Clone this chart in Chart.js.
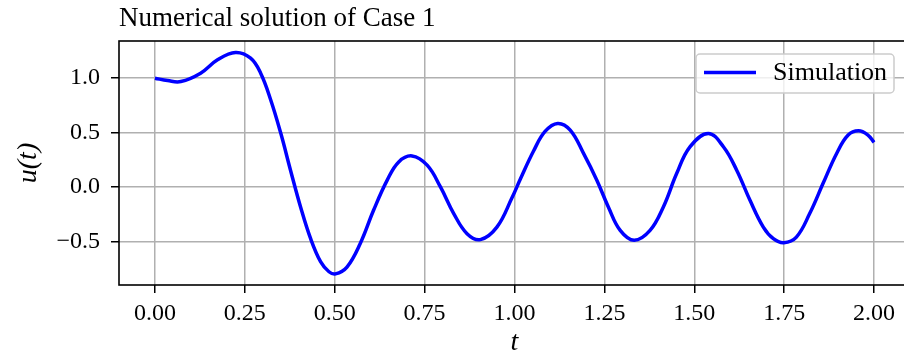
<!DOCTYPE html>
<html>
<head>
<meta charset="utf-8">
<script src="https://cdn.jsdelivr.net/npm/chart.js@4"></script>
<style>
  html, body { margin: 0; padding: 0; overflow: hidden; background: #fff; }
</style>
</head>
<body>
<canvas id="caseChart" width="912" height="362"></canvas>
<script>
const titleText = 'Numerical solution of Case 1';
const seriesLabel = 'Simulation';

// t values and u(t)
const tValues = [
    0.000, 0.035, 0.072, 0.127, 0.174, 0.224, 0.266, 0.294, 0.322, 0.350,
    0.377, 0.405, 0.433, 0.461, 0.484, 0.502, 0.534, 0.571, 0.608, 0.646,
    0.678, 0.715, 0.757, 0.794, 0.831, 0.868, 0.905, 0.951, 0.993, 1.016,
    1.053, 1.085, 1.120, 1.155, 1.192, 1.229, 1.261, 1.294, 1.333, 1.377,
    1.414, 1.451, 1.488, 1.539, 1.581, 1.618, 1.655, 1.692, 1.720, 1.749,
    1.784, 1.821, 1.858, 1.896, 1.928, 1.957, 1.983, 2.000
];
const uValues = [
    1.000, 0.978, 0.969, 1.046, 1.169, 1.236, 1.184, 1.046, 0.800, 0.493,
    0.154, -0.184, -0.476, -0.690, -0.780, -0.800, -0.737, -0.520, -0.215, 0.062,
    0.230, 0.285, 0.200, 0.000, -0.245, -0.430, -0.485, -0.370, -0.100, 0.070,
    0.330, 0.510, 0.584, 0.523, 0.308, 0.062, -0.184, -0.400, -0.491, -0.400,
    -0.184, 0.123, 0.369, 0.492, 0.369, 0.154, -0.123, -0.369, -0.476, -0.513,
    -0.461, -0.245, 0.031, 0.308, 0.477, 0.516, 0.477, 0.410
];

const xTicks = [0, 0.25, 0.5, 0.75, 1.0, 1.25, 1.5, 1.75, 2.0];
const yTicks = [-0.5, 0, 0.5, 1.0];

const serif = "'Liberation Serif', 'Times New Roman', serif";
const gridColor = '#b0b0b0';

// frame around the axes, drawn over the curve like matplotlib spines
const framePlugin = {
    id: 'frame',
    afterDatasetsDraw(chart) {
        const { ctx, chartArea: a } = chart;
        ctx.save();
        ctx.strokeStyle = '#000';
        ctx.lineWidth = 1.6;
        ctx.strokeRect(a.left, a.top, a.right - a.left, a.bottom - a.top);
        ctx.restore();
    }
};

// left-aligned title and a boxed legend in the upper right
const decorPlugin = {
    id: 'decor',
    afterDraw(chart) {
        const { ctx, chartArea: a } = chart;
        ctx.save();
        ctx.fillStyle = '#000';
        ctx.font = '27px ' + serif;
        ctx.textAlign = 'left';
        ctx.textBaseline = 'alphabetic';
        ctx.fillText(titleText, a.left, 26);

        const ds = chart.data.datasets[0];
        const boxW = 198, boxH = 39;
        const bx = a.right - 16 - boxW, by = a.top + 13;
        ctx.beginPath();
        ctx.roundRect(bx, by, boxW, boxH, 4);
        ctx.fillStyle = 'rgba(255,255,255,0.8)';
        ctx.fill();
        ctx.strokeStyle = '#cccccc';
        ctx.lineWidth = 1.5;
        ctx.stroke();

        const ly = by + boxH / 2 - 1;
        ctx.beginPath();
        ctx.moveTo(bx + 8, ly);
        ctx.lineTo(bx + 60, ly);
        ctx.strokeStyle = ds.borderColor;
        ctx.lineWidth = ds.borderWidth;
        ctx.stroke();

        ctx.fillStyle = '#000';
        ctx.font = '26px ' + serif;
        ctx.fillText(ds.label, bx + 77, by + 26);
        ctx.restore();
    }
};

new Chart(document.getElementById('caseChart').getContext('2d'), {
    type: 'line',
    data: {
        datasets: [{
            label: seriesLabel,
            data: tValues.map((t, i) => ({ x: t, y: uValues[i] })),
            borderColor: '#0000ff',
            borderWidth: 3.5,
            pointRadius: 0,
            tension: 0.4,
            fill: false
        }]
    },
    options: {
        responsive: false,
        devicePixelRatio: 1,
        animation: false,
        layout: { padding: { top: 41, right: 2, left: 0, bottom: 0 } },
        scales: {
            x: {
                type: 'linear',
                min: -0.1,
                max: 2.1,
                afterFit: scale => { scale.height = 77; },
                afterBuildTicks: axis => { axis.ticks = xTicks.map(v => ({ value: v })); },
                border: { display: false },
                grid: {
                    color: gridColor,
                    lineWidth: 1.5,
                    tickColor: '#000',
                    tickLength: 8,
                    tickWidth: 1.5
                },
                ticks: {
                    color: '#000',
                    padding: 6,
                    maxRotation: 0,
                    font: { family: serif, size: 24 },
                    callback: v => v.toFixed(2)
                },
                title: {
                    display: true,
                    text: 't',
                    color: '#000',
                    padding: { top: 0, bottom: 3 },
                    font: { family: serif, size: 28, style: 'italic' }
                }
            },
            y: {
                type: 'linear',
                min: -0.902,
                max: 1.342,
                afterFit: scale => { scale.width = 119; },
                afterBuildTicks: axis => { axis.ticks = yTicks.map(v => ({ value: v })); },
                border: { display: false },
                grid: {
                    color: gridColor,
                    lineWidth: 1.5,
                    tickColor: '#000',
                    tickLength: 8,
                    tickWidth: 1.5
                },
                ticks: {
                    color: '#000',
                    padding: 11,
                    font: { family: serif, size: 24 },
                    callback: v => (v < 0 ? '\u2212' + Math.abs(v).toFixed(1) : v.toFixed(1))
                },
                title: {
                    display: true,
                    text: 'u(t)',
                    color: '#000',
                    padding: { top: 12, bottom: 0 },
                    font: { family: serif, size: 28, style: 'italic' }
                }
            }
        },
        plugins: {
            legend: { display: false },
            title: { display: false },
            tooltip: { enabled: false }
        }
    },
    plugins: [framePlugin, decorPlugin]
});
</script>
</body>
</html>
